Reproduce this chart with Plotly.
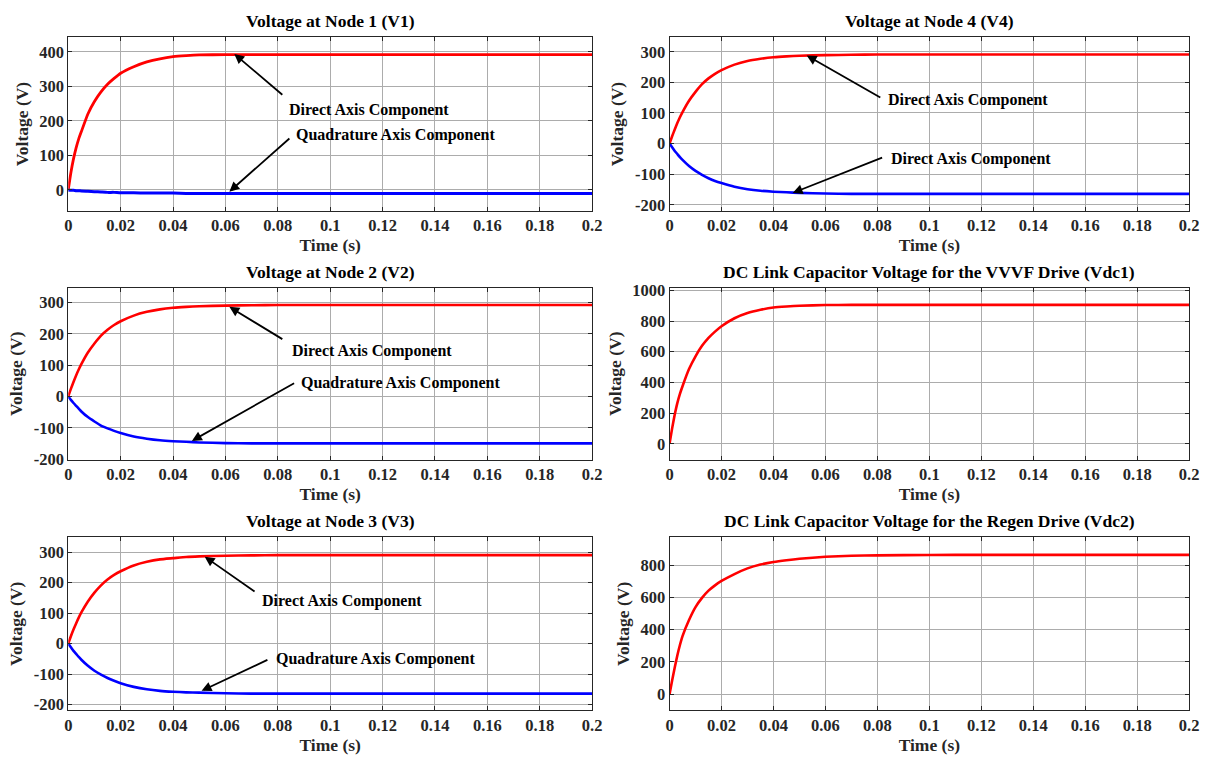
import plotly.graph_objects as go
from plotly.subplots import make_subplots

# ---- time base shared by all traces (s) ----
t = [0, 0.001, 0.002, 0.003, 0.004, 0.005, 0.0075, 0.01, 0.0125, 0.015, 0.0175, 0.02,
     0.025, 0.03, 0.035, 0.04, 0.045, 0.05, 0.06, 0.07, 0.08, 0.1, 0.12, 0.14, 0.16, 0.18, 0.2]

# ---- Node 1 (V1) ----
v1_d = [0, 50, 90, 122, 148, 169, 220, 256, 284, 306, 323, 338,
        357, 371, 380, 386, 389, 391, 392, 392, 392, 392, 392, 392, 392, 392, 392]
v1_q = [0, -1, -1, -2, -2, -3, -4, -5, -6, -7, -7, -8,
        -8, -9, -9, -9, -10, -10, -10, -10, -10, -10, -10, -10, -10, -10, -10]

# ---- Node 4 (V4) ----
v4_d = [0, 24, 46, 67, 86, 103, 140, 169, 194, 213, 228, 240,
        258, 270, 277, 282, 285, 287, 289, 290, 291, 291, 291, 291, 291, 291, 291]
v4_q = [0, -12, -24, -34, -44, -53, -73, -89, -102, -113, -122, -129,
        -141, -149, -154, -157, -159, -161, -163, -164, -164, -164, -164, -164, -164, -164, -164]

# ---- Node 2 (V2) ----
v2_d = [0, 24, 46, 67, 86, 103, 140, 169, 194, 213, 228, 240,
        258, 270, 278, 283, 286, 288, 290, 291, 292, 292, 292, 292, 292, 292, 292]
v2_q = [0, -11, -21, -30, -39, -48, -66, -80, -93, -102, -110, -117,
        -128, -135, -140, -143, -145, -147, -149, -150, -150, -150, -150, -150, -150, -150, -150]

# ---- Node 3 (V3) ----
v3_d = [0, 24, 46, 66, 85, 102, 138, 167, 191, 210, 225, 237,
        256, 268, 276, 280, 284, 286, 288, 289, 290, 290, 290, 290, 290, 290, 290]
v3_q = [0, -12, -24, -34, -44, -53, -73, -89, -102, -113, -122, -130,
        -142, -150, -155, -158, -160, -161, -163, -164, -164, -164, -164, -164, -164, -164, -164]

# ---- DC link voltages ----
vdc1 = [0, 100, 190, 265, 325, 375, 487, 570, 638, 690, 731, 766,
        818, 852, 873, 888, 895, 900, 904, 905, 905, 905, 905, 905, 905, 905, 905]
vdc2 = [0, 85, 165, 240, 305, 360, 460, 540, 597, 642, 675, 702,
        745, 780, 804, 820, 831, 840, 852, 858, 861, 863, 864, 864, 864, 864, 864]

# ---- axis ticks ----
x_ticks = [0, 0.02, 0.04, 0.06, 0.08, 0.1, 0.12, 0.14, 0.16, 0.18, 0.2]
x_labels = ["0", "0.02", "0.04", "0.06", "0.08", "0.1", "0.12", "0.14", "0.16", "0.18", "0.2"]
y_ticks_v1 = [0, 100, 200, 300, 400]
y_labels_v1 = ["0", "100", "200", "300", "400"]
y_ticks_node = [-200, -100, 0, 100, 200, 300]
y_labels_node = ["-200", "-100", "0", "100", "200", "300"]
y_ticks_dc1 = [0, 200, 400, 600, 800, 1000]
y_labels_dc1 = ["0", "200", "400", "600", "800", "1000"]
y_ticks_dc2 = [0, 200, 400, 600, 800]
y_labels_dc2 = ["0", "200", "400", "600", "800"]

titles = ["Voltage at Node 1 (V1)", "Voltage at Node 4 (V4)",
          "Voltage at Node 2 (V2)", "DC Link Capacitor Voltage for the VVVF Drive (Vdc1)",
          "Voltage at Node 3 (V3)", "DC Link Capacitor Voltage for the Regen Drive (Vdc2)"]

RED = "rgb(255,0,0)"
BLUE = "rgb(0,0,255)"
FONT = "Liberation Serif"
TXT = "#262626"

fig = make_subplots(rows=3, cols=2)

def add_line(y, color, row, col, width=2.6):
    fig.add_trace(go.Scatter(x=t, y=y, mode="lines",
                             line=dict(color=color, width=width, shape="spline", smoothing=0.5),
                             showlegend=False, hoverinfo="skip"), row=row, col=col)

add_line(v1_d, RED, 1, 1, 2.8); add_line(v1_q, BLUE, 1, 1, 3.0)
add_line(v4_d, RED, 1, 2); add_line(v4_q, BLUE, 1, 2)
add_line(v2_d, RED, 2, 1); add_line(v2_q, BLUE, 2, 1)
add_line(vdc1, RED, 2, 2)
add_line(v3_d, RED, 3, 1); add_line(v3_q, BLUE, 3, 1)
add_line(vdc2, RED, 3, 2)

W, H = 1214, 769
x_dom = {1: [65 / W, 595 / W], 2: [673.3 / W, 1199 / W]}
y_dom = {1: [1 - 208 / H, 1 - 31 / H], 2: [1 - 462.3 / H, 1 - 286.7 / H], 3: [1 - 718.3 / H, 1 - 541.7 / H]}
y_ranges = {(1, 1): [-60, 442], (1, 2): [-219, 347], (2, 1): [-202, 347], (2, 2): [-104, 1017],
            (3, 1): [-219, 348], (3, 2): [-100, 972]}
y_tickmap = {(1, 1): (y_ticks_v1, y_labels_v1), (1, 2): (y_ticks_node, y_labels_node),
             (2, 1): (y_ticks_node, y_labels_node), (2, 2): (y_ticks_dc1, y_labels_dc1),
             (3, 1): (y_ticks_node, y_labels_node), (3, 2): (y_ticks_dc2, y_labels_dc2)}

axis_common = dict(showline=True, linecolor=TXT, linewidth=1, mirror="ticks", ticks="inside",
                   ticklen=4, tickcolor=TXT, showgrid=True, gridcolor="#acacac", gridwidth=1,
                   zeroline=False, tickfont=dict(family=FONT, size=16.5, color=TXT, weight="bold"))
axis_title_font = dict(family=FONT, size=17.5, color=TXT, weight="bold")

annotations = []
for i, title in enumerate(titles):
    row, col = i // 2 + 1, i % 2 + 1
    yt, yl = y_tickmap[(row, col)]
    fig.update_xaxes(row=row, col=col, domain=x_dom[col], range=[0, 0.2], tickvals=x_ticks, ticktext=x_labels,
                     title=dict(text="Time (s)", font=axis_title_font, standoff=2), **axis_common)
    fig.update_yaxes(row=row, col=col, domain=y_dom[row], range=y_ranges[(row, col)],
                     tickvals=yt, ticktext=yl,
                     title=dict(text="Voltage (V)", font=axis_title_font, standoff=6), **axis_common)
    cx = (x_dom[col][0] + x_dom[col][1]) / 2
    annotations.append(dict(text=title, x=cx, y=y_dom[row][1], xref="paper", yref="paper",
                            xanchor="center", yanchor="bottom", yshift=4, showarrow=False,
                            font=dict(family=FONT, size=17.5, color="black", weight="bold")))

# labels with arrows: (axis index, text, text x, text y, arrow head x, head y, tail x, tail y)
callouts = [
    (1, "Direct Axis Component", 0.115, 232, 0.0634, 394, 0.0823, 272),
    (1, "Quadrature Axis Component", 0.125, 160, 0.0615, -5, 0.085, 153),
    (2, "Direct Axis Component", 0.115, 142, 0.0528, 288, 0.0817, 148),
    (2, "Direct Axis Component", 0.116, -51, 0.0474, -161, 0.0824, -44),
    (3, "Direct Axis Component", 0.116, 145, 0.0615, 286, 0.0823, 180),
    (3, "Quadrature Axis Component", 0.127, 42, 0.0472, -142, 0.0868, 45),
    (5, "Direct Axis Component", 0.1045, 138, 0.0521, 285, 0.0717, 167),
    (5, "Quadrature Axis Component", 0.1175, -51, 0.0509, -155, 0.0766, -51),
]
for n, text, tx, ty, hx, hy, ax_, ay_ in callouts:
    xa = "x" if n == 1 else f"x{n}"
    ya = "y" if n == 1 else f"y{n}"
    annotations.append(dict(text=text, x=tx, y=ty, xref=xa, yref=ya, showarrow=False,
                            font=dict(family=FONT, size=16, color="black", weight="bold")))
    annotations.append(dict(text="", x=hx, y=hy, xref=xa, yref=ya, ax=ax_, ay=ay_, axref=xa, ayref=ya,
                            showarrow=True, arrowhead=2, arrowsize=1.1, arrowwidth=1.8, arrowcolor="black"))

fig.update_layout(width=W, height=H, margin=dict(l=0, r=0, t=0, b=0), paper_bgcolor="white",
                  plot_bgcolor="white", annotations=annotations,
                  font=dict(family=FONT, size=16, color=TXT, weight="bold"))

fig.write_html("out.html")
